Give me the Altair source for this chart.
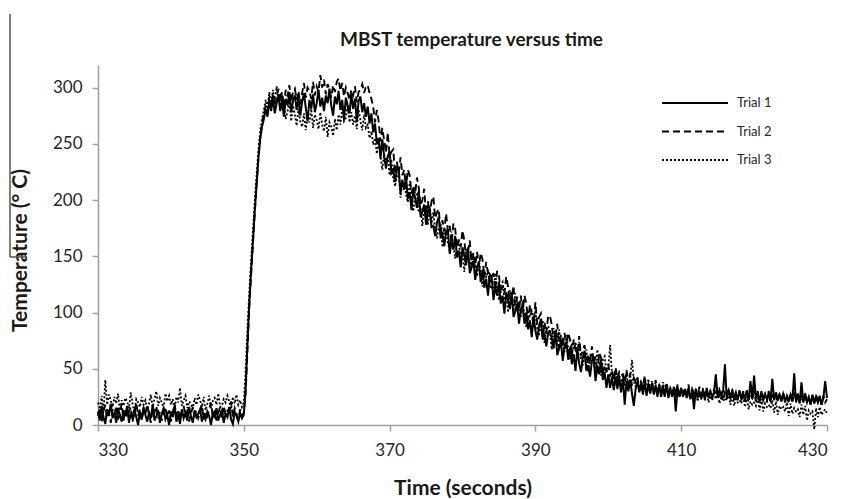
import altair as alt
import pandas as pd

T_START = 330.0
T_STEP = 0.25
TRIALS = ["Trial 1", "Trial 2", "Trial 3"]
X_TICKS = [330, 350, 370, 390, 410, 430]
Y_TICKS = [0, 50, 100, 150, 200, 250, 300]

trial1 = [
    12, 4, 17, 7, 1, 14, 9, 19,
    6, 11, 2, 15, 9, 3, 13, 8,
    17, 2, 11, 5, 14, 7, 0, 12,
    5, 16, 9, 3, 11, 6, 18, 4,
    8, 13, 2, 10, 15, 5, 9, 0,
    12, 7, 17, 3, 9, 1, 14, 6,
    11, 4, 16, 8, 2, 13, 7, 10,
    14, 3, 9, 5, 12, 8, 0, 11,
    6, 15, 4, 9, 13, 2, 10, 7,
    16, 5, 1, 12, 8, 3, 11, 6,
    9, 32, 72, 108, 137, 163, 190, 213,
    237, 254, 265, 272, 281, 274, 288, 279,
    291, 277, 286, 293, 279, 289, 274, 290,
    284, 296, 278, 288, 293, 280, 291, 275,
    287, 295, 282, 270, 289, 281, 294, 278,
    286, 298, 283, 291, 279, 293, 286, 299,
    284, 275, 292, 285, 297, 280, 289, 271,
    291, 284, 277, 294, 281, 290, 270, 288,
    292, 278, 286, 274, 283, 268, 277, 260,
    268, 250, 255, 237, 254, 239, 228, 239,
    243, 224, 227, 216, 227, 228, 206, 218,
    209, 221, 201, 207, 191, 209, 202, 193,
    208, 185, 190, 196, 178, 190, 193, 176,
    177, 168, 180, 185, 166, 170, 159, 172,
    173, 152, 164, 156, 168, 149, 155, 140,
    158, 151, 142, 158, 135, 140, 146, 129,
    141, 144, 127, 138, 122, 130, 115, 134,
    132, 111, 123, 115, 127, 108, 115, 99,
    118, 111, 103, 118, 96, 101, 108, 90,
    103, 106, 90, 100, 85, 93, 78, 97,
    84, 76, 88, 94, 76, 80, 70, 82,
    83, 77, 68, 84, 62, 68, 74, 57,
    70, 74, 58, 69, 54, 63, 48, 68,
    55, 47, 60, 66, 48, 53, 43, 57,
    59, 39, 53, 45, 58, 40, 47, 33,
    45, 33, 43, 31, 43, 32, 42, 29,
    41, 18, 39, 30, 40, 28, 17, 32,
    39, 29, 37, 27, 38, 26, 36, 28,
    37, 27, 35, 25, 36, 25, 34, 26,
    35, 24, 33, 25, 34, 12, 32, 26,
    33, 25, 32, 24, 33, 23, 31, 14,
    32, 24, 30, 23, 31, 22, 33, 24,
    30, 25, 29, 45, 24, 31, 26, 30,
    54, 23, 31, 25, 30, 24, 29, 22,
    31, 23, 28, 24, 30, 22, 39, 23,
    44, 24, 28, 21, 30, 22, 27, 23,
    28, 21, 41, 22, 29, 23, 27, 21,
    28, 20, 26, 22, 27, 21, 46, 20,
    28, 19, 38, 21, 26, 20, 25, 18,
    27, 19, 25, 20, 26, 18, 24, 39,
    24,
]

trial2 = [
    8, 15, 3, 12, 18, 6, 11, 2,
    14, 9, 17, 5, 10, 19, 4, 13,
    7, 12, 16, 3, 11, 20, 8, 14,
    4, 13, 10, 18, 9, 2, 15, 11,
    17, 6, 12, 4, 10, 16, 7, 13,
    3, 11, 19, 8, 14, 5, 12, 17,
    7, 15, 3, 10, 16, 9, 13, 6,
    11, 18, 5, 12, 8, 14, 20, 7,
    13, 4, 11, 16, 6, 17, 9, 13,
    12, 21, 7, 15, 10, 5, 14, 8,
    11, 28, 66, 104, 133, 161, 188, 214,
    236, 256, 268, 276, 284, 278, 292, 283,
    295, 284, 291, 299, 287, 296, 283, 298,
    292, 302, 287, 296, 299, 289, 297, 285,
    295, 304, 291, 300, 297, 290, 305, 293,
    301, 296, 311, 300, 307, 294, 303, 298,
    291, 302, 296, 305, 308, 297, 304, 292,
    300, 295, 289, 298, 293, 301, 287, 296,
    298, 303, 295, 301, 302, 295, 290, 283,
    269, 280, 270, 252, 264, 253, 242, 260,
    239, 243, 245, 223, 234, 224, 238, 222,
    227, 211, 227, 222, 206, 213, 205, 220,
    211, 195, 200, 210, 187, 199, 187, 199,
    203, 184, 189, 192, 170, 182, 172, 188,
    172, 177, 161, 179, 174, 158, 165, 158,
    173, 164, 148, 154, 164, 141, 153, 142,
    154, 140, 153, 147, 131, 145, 135, 127,
    130, 135, 120, 137, 133, 117, 124, 117,
    132, 123, 108, 113, 124, 101, 114, 102,
    115, 101, 115, 108, 93, 107, 98, 89,
    109, 90, 96, 99, 78, 91, 81, 97,
    97, 89, 73, 79, 90, 68, 80, 69,
    82, 69, 82, 76, 61, 76, 67, 59,
    79, 61, 67, 71, 50, 63, 54, 70,
    55, 61, 46, 64, 60, 45, 53, 47,
    54, 43, 49, 40, 51, 41, 47, 44,
    45, 38, 49, 36, 46, 35, 42, 39,
    42, 30, 38, 33, 44, 29, 36, 31,
    37, 28, 40, 27, 35, 30, 34, 25,
    38, 26, 33, 28, 34, 27, 36, 24,
    33, 29, 31, 26, 36, 24, 32, 27,
    31, 26, 34, 23, 33, 25, 29, 27,
    30, 23, 32, 26, 34, 24, 28, 22,
    29, 27, 31, 23, 32, 22, 28, 25,
    28, 24, 30, 21, 31, 23, 27, 24,
    29, 21, 30, 22, 27, 25, 28, 20,
    30, 22, 26, 23, 26, 20, 29, 21,
    28, 23, 25, 19, 27, 21, 29, 22,
    25, 19, 27, 20, 28, 22, 24, 18,
    26, 20, 27, 21, 24, 18, 26, 20,
    23,
]

trial3 = [
    20, 14, 26, 11, 40, 18, 27, 22,
    16, 25, 19, 28, 13, 22, 17, 24,
    21, 15, 29, 18, 12, 23, 20, 16,
    25, 18, 22, 14, 19, 27, 16, 23,
    30, 17, 24, 20, 15, 28, 21, 26,
    18, 23, 14, 25, 20, 33, 17, 22,
    26, 15, 21, 19, 14, 24, 18, 27,
    22, 16, 25, 13, 19, 26, 15, 21,
    24, 18, 28, 16, 17, 23, 20, 26,
    21, 14, 25, 19, 27, 18, 22, 16,
    20, 48, 85, 118, 146, 172, 198, 222,
    244, 262, 272, 280, 289, 281, 296, 284,
    298, 286, 301, 290, 293, 280, 287, 272,
    279, 288, 270, 284, 276, 266, 281, 270,
    265, 277, 262, 274, 269, 281, 264, 276,
    271, 263, 278, 267, 261, 274, 256, 269,
    265, 257, 272, 262, 276, 267, 281, 270,
    273, 284, 269, 278, 267, 275, 263, 280,
    271, 262, 276, 264, 267, 255, 261, 249,
    255, 241, 254, 239, 227, 241, 233, 239,
    222, 236, 219, 212, 221, 224, 202, 216,
    216, 205, 198, 215, 201, 190, 203, 205,
    189, 193, 177, 196, 189, 178, 192, 179,
    189, 173, 166, 176, 179, 158, 172, 173,
    162, 155, 172, 159, 148, 161, 163, 148,
    152, 136, 156, 149, 139, 153, 140, 143,
    132, 146, 134, 123, 138, 131, 138, 122,
    124, 117, 135, 121, 111, 124, 127, 111,
    116, 100, 120, 113, 103, 117, 104, 107,
    96, 110, 98, 87, 102, 96, 102, 87,
    102, 86, 80, 89, 93, 73, 87, 88,
    82, 67, 86, 80, 70, 85, 72, 76,
    65, 80, 68, 58, 73, 67, 74, 59,
    74, 59, 53, 63, 67, 47, 62, 64,
    54, 48, 67, 54, 44, 58, 61, 47,
    51, 71, 46, 40, 49, 38, 45, 36,
    44, 35, 47, 33, 41, 58, 39, 34,
    43, 31, 38, 35, 37, 29, 41, 30,
    39, 32, 35, 27, 34, 28, 38, 30,
    36, 26, 33, 29, 31, 27, 35, 24,
    33, 25, 30, 28, 29, 23, 32, 26,
    31, 21, 27, 24, 28, 25, 30, 20,
    26, 22, 29, 23, 30, 19, 25, 21,
    24, 22, 28, 18, 27, 17, 23, 20,
    22, 19, 26, 16, 25, 14, 21, 18,
    20, 17, 24, 13, 23, 12, 19, 16,
    18, 15, 22, 11, 21, 9, 17, 14,
    16, 12, 20, 8, 19, 10, 15, 12,
    14, 7, 18, 9, 17, 4, 13, 10,
    12, -4, 15, 7, 16, 9, 12, 14,
    10,
]

series = [trial1, trial2, trial3]
assert all(len(s) == 401 for s in series), [len(s) for s in series]

rows = []
for name, vals in zip(TRIALS, series):
    for i, v in enumerate(vals):
        rows.append({"time": T_START + i * T_STEP, "temp": v, "trial": name, "idx": i})
df = pd.DataFrame(rows)

FONT = "Lato"

lines = alt.Chart(df).mark_line(clip=False, color="black").encode(
    x=alt.X(
        "time:Q",
        scale=alt.Scale(domain=[330, 430], nice=False, zero=False),
        axis=alt.Axis(values=X_TICKS, title="Time (seconds)", tickSize=6,
                      labelPadding=11, titleY=63, titleBaseline="middle"),
    ),
    y=alt.Y(
        "temp:Q",
        scale=alt.Scale(domain=[0, 320], nice=False),
        axis=alt.Axis(values=Y_TICKS, title="Temperature (° C)", tickSize=6,
                      labelPadding=10, titleX=-78, titleY=185,
                      titleAlign="center", titleBaseline="middle", titleAngle=270),
    ),
    strokeDash=alt.StrokeDash(
        "trial:N",
        scale=alt.Scale(domain=TRIALS, range=[[1, 0], [7, 4], [2, 2]]),
        legend=alt.Legend(
            title=None, orient="none", legendX=585, legendY=26,
            symbolType="M-3,0L3,0", symbolSize=484, symbolStrokeWidth=2,
            symbolStrokeColor="black", labelFont=FONT, labelFontSize=13,
            labelColor="#262626", rowPadding=9.5, labelOffset=30, padding=0,
        ),
    ),
    strokeWidth=alt.StrokeWidth(
        "trial:N", scale=alt.Scale(domain=TRIALS, range=[2.0, 1.8, 1.8]), legend=None
    ),
    order="idx:Q",
)

one = pd.DataFrame({"k": [0]})
frame_v = alt.Chart(one).mark_rule(color="#555555", strokeWidth=1.5, clip=False).encode(
    x=alt.value(-88), y=alt.value(-51), y2=alt.value(192)
)
frame_h = alt.Chart(one).mark_rule(color="#555555", strokeWidth=1.5, clip=False).encode(
    x=alt.value(-88), x2=alt.value(-71), y=alt.value(192)
)

chart = alt.layer(lines, frame_v, frame_h).properties(
    width=729,
    height=360,
    title=alt.TitleParams(
        "MBST temperature versus time", font=FONT, fontSize=19, fontWeight="bold",
        color="#1a1a1a", anchor="middle", frame="group", dx=9, offset=-52,
        baseline="alphabetic",
    ),
    autosize=alt.AutoSizeParams(type="none"),
    padding={"left": 98, "top": 65, "right": 16, "bottom": 74},
).configure_view(stroke=None).configure_axis(
    grid=False, domainColor="#a0a0a0", tickColor="#a0a0a0", domainWidth=1.5,
    tickWidth=1.5, labelFont=FONT, labelFontSize=17, labelColor="#262626",
    titleFont=FONT, titleFontWeight="bold", titleFontSize=21, titleColor="#1a1a1a",
)

chart.save("out.html", embed_options={"renderer": "svg", "actions": False})
